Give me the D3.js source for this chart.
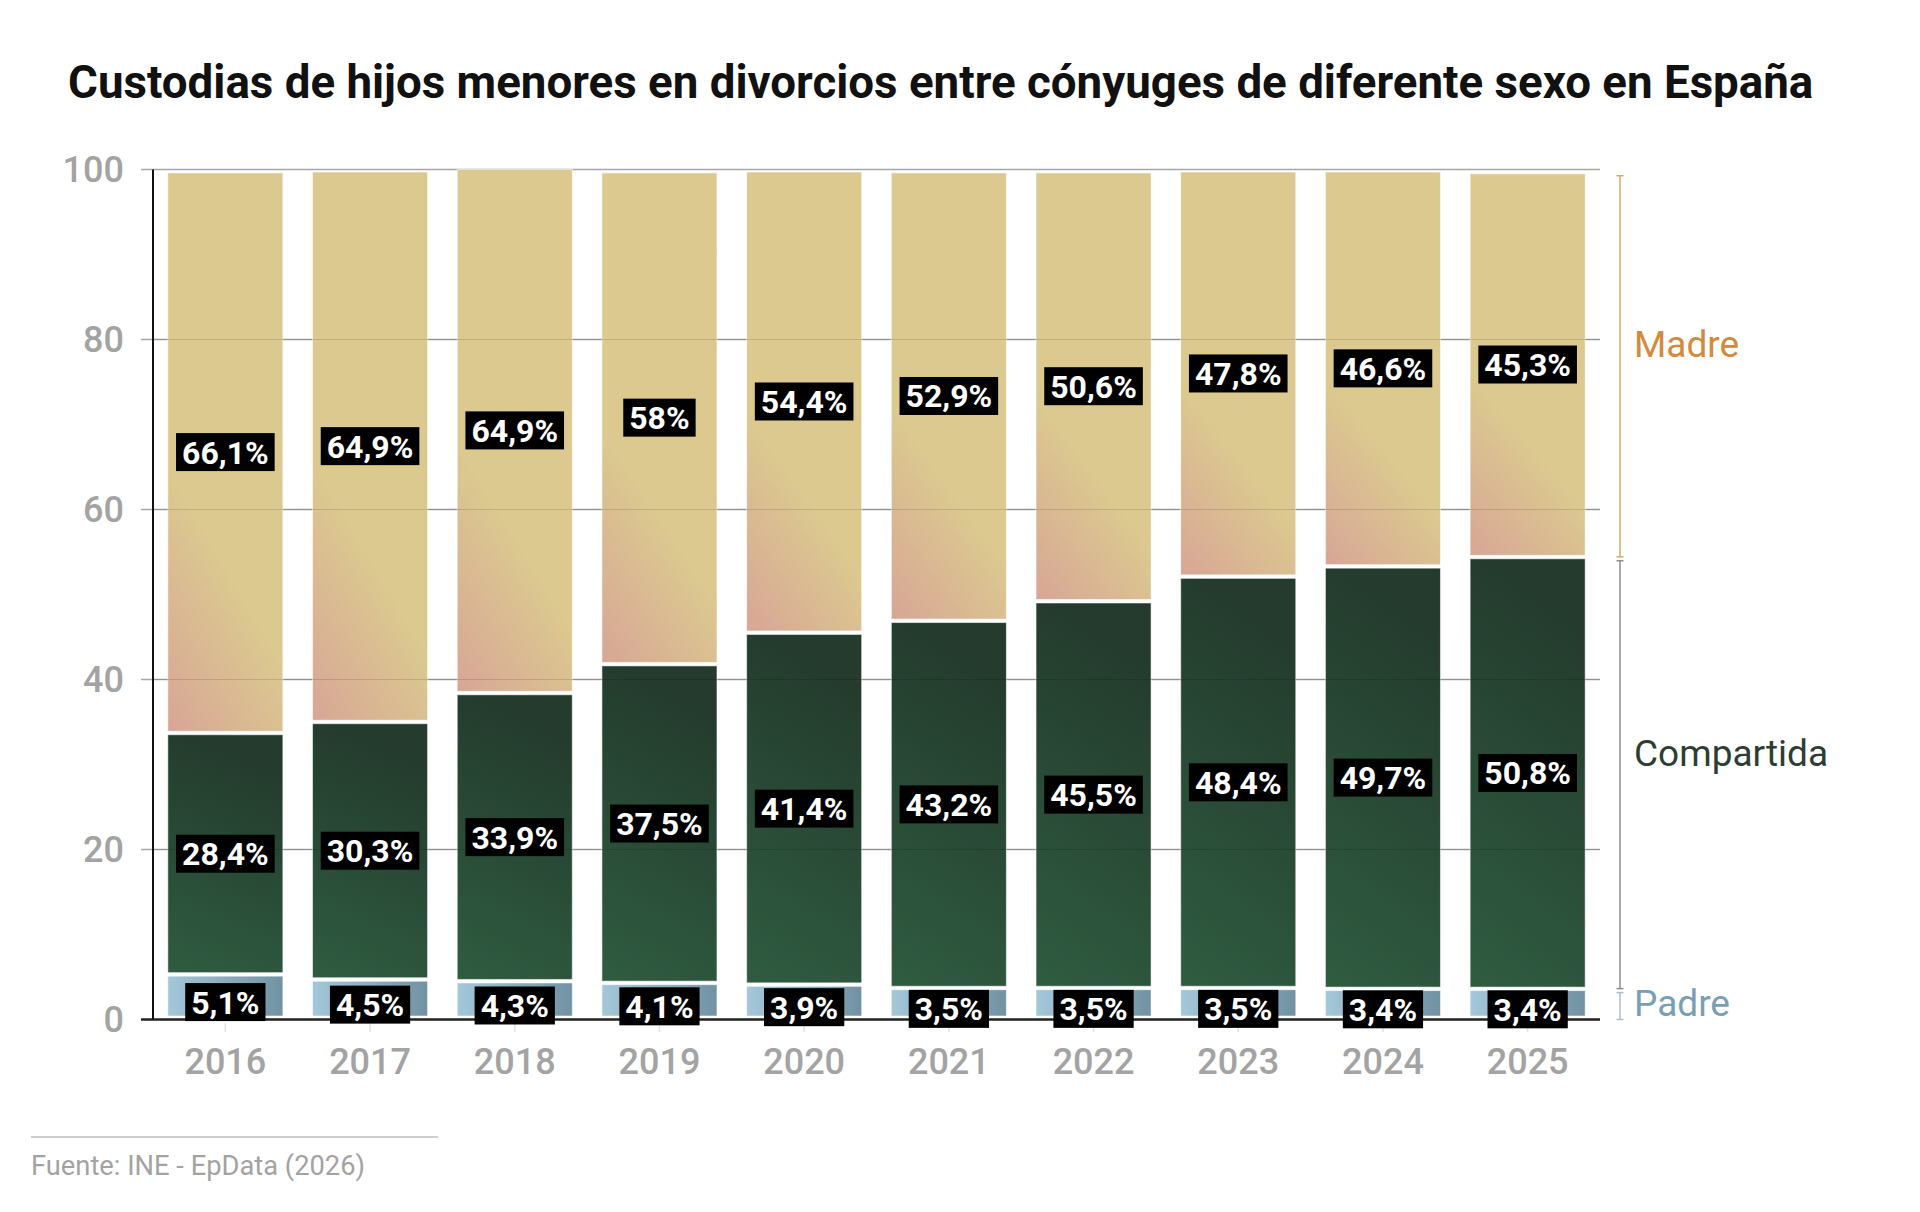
<!DOCTYPE html>
<html><head><meta charset="utf-8">
<script src="https://cdn.jsdelivr.net/npm/d3@7/dist/d3.min.js"></script>
<style>
html,body{margin:0;padding:0;background:#fff;}
svg{display:block;font-family:Roboto,"Noto Sans",sans-serif;}
</style></head>
<body>
<svg id="chart" width="1920" height="1212"></svg>
<script>
const title = "Custodias de hijos menores en divorcios entre cónyuges de diferente sexo en España";
const source = "Fuente: INE - EpData (2026)";
const years = ["2016","2017","2018","2019","2020","2021","2022","2023","2024","2025"];
const padre = [5.1,4.5,4.3,4.1,3.9,3.5,3.5,3.5,3.4,3.4];
const compartida = [28.4,30.3,33.9,37.5,41.4,43.2,45.5,48.4,49.7,50.8];
const madre = [66.1,64.9,64.9,58,54.4,52.9,50.6,47.8,46.6,45.3];
const seriesKeys = ["padre","compartida","madre"];
const seriesNames = {padre:"Padre", compartida:"Compartida", madre:"Madre"};
const yTicks = [0,20,40,60,80,100];

const fmt = v => String(v).replace(".", ",") + "%";

const rows = years.map((y,i)=>({year:y, padre:padre[i], compartida:compartida[i], madre:madre[i]}));
const stacked = d3.stack().keys(seriesKeys)(rows);

const svg = d3.select("#chart");
svg.append("rect").attr("width",1920).attr("height",1212).attr("fill","#fff");

const x = d3.scaleBand().domain(years).range([153,1600]).paddingInner(0.205).paddingOuter(0.1025);
const y = d3.scaleLinear().domain([0,100]).range([1019.5,169.5]).clamp(true);

// gradients
const defs = svg.append("defs");
const grads = {
  madre: {x1:0,y1:1,x2:0.15,y2:0.58, stops:[["0","#d8a596"],["0.15","#d8ab95"],["1","#dbc98f"]]},
  compartida: {x1:0,y1:1,x2:0.2,y2:0, stops:[["0","#2f5c41"],["1","#243b2d"]]},
  padre: {x1:0,y1:0.5,x2:1,y2:0.5, stops:[["0","#a3c8da"],["1","#7192a3"]]}
};
Object.entries(grads).forEach(([k,g])=>{
  const lg = defs.append("linearGradient").attr("id","g-"+k)
    .attr("x1",g.x1).attr("y1",g.y1).attr("x2",g.x2).attr("y2",g.y2);
  g.stops.forEach(s=>lg.append("stop").attr("offset",s[0]).attr("stop-color",s[1]));
});

// title
svg.append("text").attr("x",68).attr("y",98)
  .attr("font-size",45.7).attr("font-weight",700).attr("fill","#111")
  .text(title);

// gridlines (under bars)
svg.append("g").selectAll("line").data(yTicks.filter(t=>t>0)).join("line")
  .attr("x1",141).attr("x2",1600)
  .attr("y1",d=>y(d)).attr("y2",d=>y(d))
  .attr("stroke","#a8a8a8").attr("stroke-width",1.5);
// zero line
svg.append("line").attr("x1",141).attr("x2",1600).attr("y1",y(0)).attr("y2",y(0))
  .attr("stroke","#222").attr("stroke-width",2.5);

// x ticks
svg.append("g").selectAll("line").data(years).join("line")
  .attr("x1",d=>x(d)+x.bandwidth()/2).attr("x2",d=>x(d)+x.bandwidth()/2)
  .attr("y1",1023).attr("y2",1032).attr("stroke","#e2e2e2").attr("stroke-width",1.5);

// bars
const gap = 3.5;
const barsG = svg.append("g");
stacked.forEach(s=>{
  barsG.append("g").selectAll("rect").data(s).join("rect")
    .attr("x",d=>x(d.data.year))
    .attr("width",x.bandwidth())
    .attr("y",d=>y(d[1]))
    .attr("height",d=>Math.max(0, y(d[0]) - y(d[1]) - gap))
    .attr("fill","url(#g-"+s.key+")")
    .attr("stroke","rgba(255,255,255,0.55)").attr("stroke-width",1);
});

// faint gridlines over bars
svg.append("g").selectAll("line").data(yTicks.filter(t=>t>0 && t<100)).join("line")
  .attr("x1",153).attr("x2",1600)
  .attr("y1",d=>y(d)).attr("y2",d=>y(d))
  .attr("stroke","rgba(0,0,0,0.13)").attr("stroke-width",1.2);

// y axis
svg.append("line").attr("x1",153).attr("x2",153).attr("y1",y(100)).attr("y2",y(0))
  .attr("stroke","#111").attr("stroke-width",2);
svg.append("g").selectAll("text").data(yTicks).join("text")
  .attr("x",124).attr("y",d=>y(d)).attr("dy","0.36em")
  .attr("text-anchor","end").attr("font-size",36).attr("font-weight",500).attr("fill","#a3a3a3")
  .text(d=>d);

// x labels
svg.append("g").selectAll("text").data(years).join("text")
  .attr("x",d=>x(d)+x.bandwidth()/2).attr("y",1074)
  .attr("text-anchor","middle").attr("font-size",36).attr("font-weight",500).attr("fill","#a3a3a3")
  .text(d=>d);

// value labels
const labG = svg.append("g");
stacked.forEach(s=>{
  s.forEach(d=>{
    const v = d.data[s.key];
    let cy = (y(d[0]) + y(d[1]) - gap)/2;
    if (s.key==="padre") cy += 6;
    const g = labG.append("g");
    const t = g.append("text").attr("x",x(d.data.year)+x.bandwidth()/2).attr("y",cy).attr("dy","0.36em")
      .attr("text-anchor","middle").attr("font-size",32).attr("font-weight",700).attr("fill","#fff")
      .text(fmt(v));
    const w = t.node().getComputedTextLength();
    g.insert("rect","text").attr("x",x(d.data.year)+x.bandwidth()/2 - w/2 - 6).attr("y",cy-19)
      .attr("width",w+12).attr("height",38).attr("fill","#000");
  });
});

// legend brackets for last bar
const legendStyle = {
  madre:{line:"#d3ab6a", text:"#d4893b"},
  compartida:{line:"#8c8c8c", text:"#2e3d33"},
  padre:{line:"#a9c0cd", text:"#7a9eb4"}
};
const lastIdx = years.length-1;
const legG = svg.append("g");
stacked.forEach(s=>{
  const d = s[lastIdx];
  const top = y(d[1]) + 2, bot = Math.min(y(d[0]) - 2 + (s.key==="padre"?2:0), y(0));
  const st = legendStyle[s.key];
  const bx = 1620;
  legG.append("line").attr("x1",bx).attr("x2",bx).attr("y1",top).attr("y2",bot).attr("stroke",st.line).attr("stroke-width",1.5);
  [top,bot].forEach(yy=>legG.append("line").attr("x1",bx-3.5).attr("x2",bx+3.5).attr("y1",yy).attr("y2",yy).attr("stroke",st.line).attr("stroke-width",1.5));
  const mid = (top+bot)/2;
  const h = bot-top;
  legG.append("text").attr("x",1634).attr("y", h>60 ? mid-9 : mid+9.5)
    .attr("font-size",37).attr("font-weight",400).attr("fill",st.text)
    .text(seriesNames[s.key]);
});

// source
svg.append("line").attr("x1",31).attr("x2",438).attr("y1",1137).attr("y2",1137).attr("stroke","#cfcfcf").attr("stroke-width",2);
svg.append("text").attr("x",31).attr("y",1175).attr("font-size",27.3).attr("fill","#a3a3a3").text(source);
</script>
</body></html>
